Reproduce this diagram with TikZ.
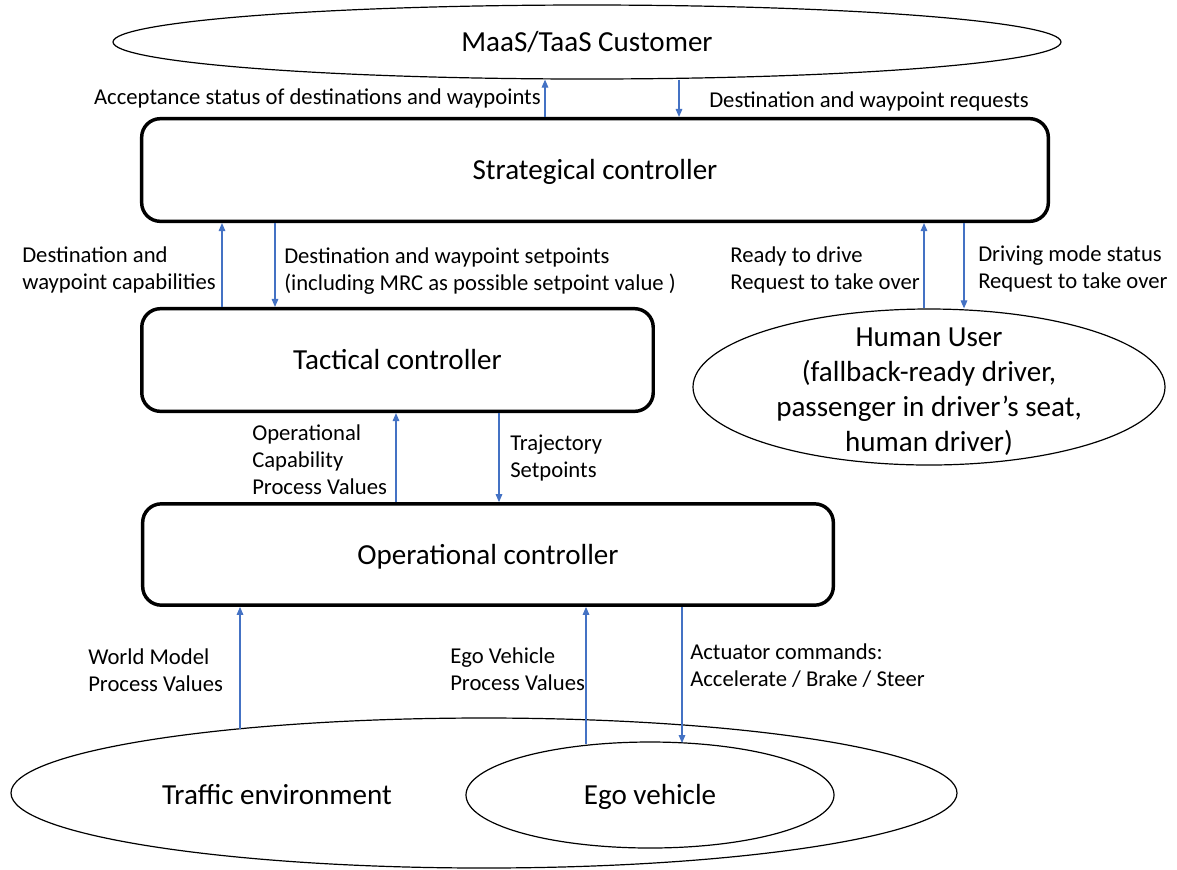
\documentclass[tikz,border=0pt]{standalone}
\usepackage{fontspec}
\setmainfont{Carlito}
\usetikzlibrary{arrows.meta,shapes.geometric}
\definecolor{arrowblue}{HTML}{4472C4}
\begin{document}
\begin{tikzpicture}[x=0.75pt,y=-0.75pt,
  bigfont/.style={font=\fontsize{21.8}{26.25}\selectfont},
  ctrl/.style={draw=black,line width=2.6pt,rounded corners=14pt,minimum height=77pt,inner sep=0pt,bigfont,text height=17pt,text depth=2.5pt},
  oval/.style={draw=black,line width=0.9pt,ellipse,inner sep=0pt,bigfont},
  oneline/.style={text height=17pt,text depth=2.5pt},
  lbl/.style={inner sep=0pt,align=left,font=\fontsize{17}{20.25}\selectfont},
  big/.style={inner sep=0pt,bigfont},
  arr/.style={draw=arrowblue,line width=0.8pt,-{Triangle[length=6pt,width=5pt]}}]
\useasboundingbox (0,0) rectangle (1177,869);

% ellipses
\node[oval,oneline,minimum width=711pt,minimum height=55.5pt] (cust) at (587,42) {MaaS/TaaS Customer};
\node[oval,minimum width=354pt,minimum height=117pt,
  label={[big,align=center,yshift=-3.5pt]center:{Human User\\(fallback-ready driver,\\passenger in driver’s seat,\\human driver)}}] (human) at (929,387) {};
\node[oval,minimum width=709.5pt,minimum height=112.5pt] (traffic) at (484,793) {};
\node[big,oneline] (trafficlbl) at (277,795) {Traffic environment};
\node[oval,oneline,minimum width=276pt,minimum height=79.5pt] (ego) at (650,795) {Ego vehicle};

% controllers
\node[ctrl,minimum width=680pt] (strat) at (595,170) {Strategical controller};
\node[ctrl,minimum width=383.6pt] (tact) at (397.5,360) {Tactical controller};
\node[ctrl,minimum width=518pt,minimum height=76pt] (oper) at (488,554.5) {Operational controller};

% x positions of connectors
\coordinate (xacc) at (545,0);
\coordinate (xreq) at (679,0);
\coordinate (xcap) at (222,0);
\coordinate (xset) at (275,0);
\coordinate (xready) at (924,0);
\coordinate (xdrive) at (964,0);
\coordinate (xopcap) at (396,0);
\coordinate (xtraj) at (499,0);
\coordinate (wmfoot) at (240,729);
\coordinate (egofoot) at (586,744);
\coordinate (acthead) at (682,743);

% connectors
\draw[arr] (strat.north -| xacc) -- (cust.south -| xacc);
\draw[arr] (cust.south -| xreq) -- (strat.north -| xreq);
\draw[arr] (tact.north -| xcap) -- (strat.south -| xcap);
\draw[arr] (strat.south -| xset) -- (tact.north -| xset);
\draw[arr] (human.north -| xready) -- (strat.south -| xready);
\draw[arr] (strat.south -| xdrive) -- (human.north -| xdrive);
\draw[arr] (oper.north -| xopcap) -- (tact.south -| xopcap);
\draw[arr] (tact.south -| xtraj) -- (oper.north -| xtraj);
\draw[arr] (wmfoot) -- (oper.south -| wmfoot);
\draw[arr] (egofoot) -- (oper.south -| egofoot);
\draw[arr] (oper.south -| acthead) -- (acthead);

% labels
\node[lbl,anchor=east] (lacc) at (541,98) {Acceptance status of destinations and waypoints};
\node[lbl,anchor=west] (lreq) at (709,101) {Destination and waypoint requests};
\node[lbl,anchor=east] (lcap) at (216,269.5) {Destination and\\waypoint capabilities};
\node[lbl,anchor=west] (lset) at (284,271) {Destination and waypoint setpoints\\(including MRC as possible setpoint value )};
\node[lbl,anchor=east] (lready) at (920,269.5) {Ready to drive\\Request to take over};
\node[lbl,anchor=west] (ldrive) at (978,268.5) {Driving mode status\\Request to take over};
\node[lbl,anchor=west] (lopcap) at (252,460) {Operational\\Capability\\Process Values};
\node[lbl,anchor=west] (ltraj) at (510,458.5) {Trajectory\\Setpoints};
\node[lbl,anchor=west] (lworld) at (88,670) {World Model\\Process Values};
\node[lbl,anchor=west] (legopv) at (450,669) {Ego Vehicle\\Process Values};
\node[lbl,anchor=west] (lact) at (690,666) {Actuator commands:\\Accelerate / Brake / Steer};
\end{tikzpicture}
\end{document}
